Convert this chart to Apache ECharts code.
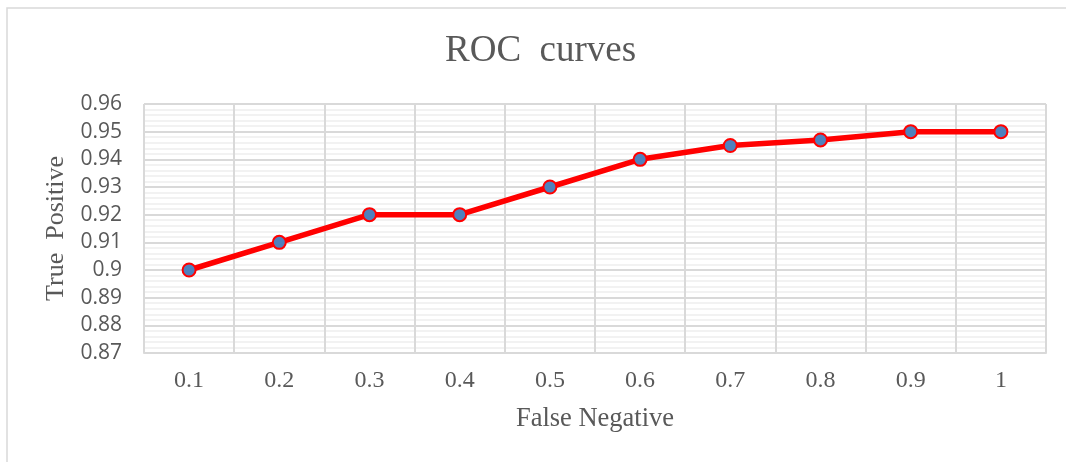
<!DOCTYPE html>
<html><head><meta charset="utf-8">
<script src="https://cdn.jsdelivr.net/npm/echarts@6/dist/echarts.min.js"></script>
<style>html,body{margin:0;padding:0;background:#fff}#c{width:1066px;height:462px}</style>
</head><body><div id="c"></div>
<script>
var categories = ['0.1','0.2','0.3','0.4','0.5','0.6','0.7','0.8','0.9','1'];
var truePositive = [0.90, 0.91, 0.92, 0.92, 0.93, 0.94, 0.945, 0.947, 0.95, 0.95];
var titleText = 'ROC  curves';
var xName = 'False Negative';
var yName = 'True  Positive';

var chart = echarts.init(document.getElementById('c'), null, {renderer:'canvas'});
chart.setOption({
  backgroundColor:'#fff',
  animation:false,
  title:{text:titleText,left:440,top:28,
    textStyle:{fontFamily:'Liberation Serif',fontSize:37,fontWeight:'normal',color:'#595959'}},
  graphic:[{type:'rect',shape:{x:7,y:8,width:1100,height:500},
    style:{fill:'none',stroke:'#d9d9d9',lineWidth:1.5},silent:true}],
  grid:{left:144,right:20,top:104,bottom:109},
  xAxis:{type:'category',data:categories,boundaryGap:true,
    name:xName,nameLocation:'middle',nameGap:53,
    nameTextStyle:{fontFamily:'Liberation Serif',fontSize:26.5,color:'#595959'},
    axisLine:{show:true,lineStyle:{color:'#d9d9d9',width:2}},
    axisTick:{show:false},
    axisLabel:{margin:16,fontFamily:'Liberation Serif',fontSize:24,color:'#595959'},
    splitLine:{show:true,lineStyle:{color:'#d9d9d9',width:2}}},
  yAxis:{type:'value',min:0.87,max:0.96,interval:0.01,
    name:yName,nameLocation:'middle',nameGap:73,
    nameTextStyle:{fontFamily:'Liberation Serif',fontSize:26,color:'#595959'},
    axisLine:{show:false},axisTick:{show:false},
    axisLabel:{margin:22,fontFamily:'Open Sans',fontSize:21,color:'#595959',
      formatter:function(v){return String(parseFloat(v.toFixed(3)));}},
    splitLine:{show:true,lineStyle:{color:'#d9d9d9',width:2}},
    minorTick:{show:false,splitNumber:5},
    minorSplitLine:{show:true,lineStyle:{color:'#eeeeee',width:1.5}}},
  series:[{type:'line',data:truePositive,symbol:'circle',symbolSize:13,
    lineStyle:{color:'#ff0000',width:5.5},
    itemStyle:{color:'#4f81bd',borderColor:'#ff0000',borderWidth:2}}]
});
</script></body></html>
